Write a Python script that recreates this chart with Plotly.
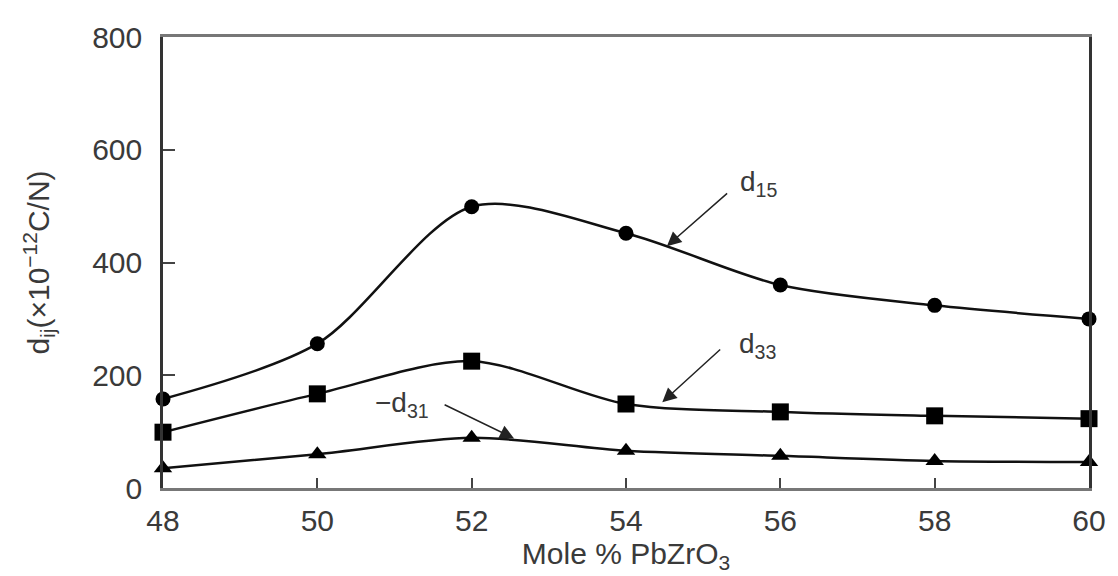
import plotly.graph_objects as go

mole_pct = [48, 50, 52, 54, 56, 58, 60]
d15 = [158, 256, 499, 452, 360, 324, 300]
d33 = [99, 167, 225, 149, 135, 128, 123]
d31_neg = [35, 60, 89, 66, 57, 48, 46]

x_ticks = [48, 50, 52, 54, 56, 58, 60]
y_ticks = [0, 200, 400, 600, 800]

FONT = "Liberation Sans, Arial, sans-serif"
TXT = "#3a3a3a"

fig = go.Figure()

series = [
    (d15, "circle", 15, "d15"),
    (d33, "square", 17, "d33"),
    (d31_neg, "triangle-up", 16, "-d31"),
]
for vals, sym, size, name in series:
    fig.add_trace(go.Scatter(
        x=mole_pct, y=vals, mode="lines+markers", name=name,
        line=dict(color="#111111", width=2.5, shape="spline", smoothing=0.85),
        marker=dict(symbol=sym, size=size, color="#000000"),
        cliponaxis=False, showlegend=False,
    ))

ann_font = dict(family=FONT, size=28, color=TXT)
arrow_style = dict(showarrow=True, arrowhead=2, arrowsize=1.9, arrowwidth=1.5, arrowcolor="#222222")
annotations = [
    # d15 label + arrow
    dict(x=55.72, y=540, xref="x", yref="y", text="d<sub>15</sub>", showarrow=False, font=ann_font),
    dict(x=54.53, y=429, ax=55.33, ay=525, xref="x", yref="y", axref="x", ayref="y",
         text="", **arrow_style),
    # d33 label + arrow
    dict(x=55.70, y=252, xref="x", yref="y", text="d<sub>33</sub>", showarrow=False, font=ann_font),
    dict(x=54.47, y=152, ax=55.24, ay=248, xref="x", yref="y", axref="x", ayref="y",
         text="", **arrow_style),
    # -d31 label + arrow
    dict(x=51.10, y=148, xref="x", yref="y", text="\u2212d<sub>31</sub>", showarrow=False, font=ann_font),
    dict(x=52.55, y=88, ax=51.63, ay=149, xref="x", yref="y", axref="x", ayref="y",
         text="", **arrow_style),
]

# page body has an 8px default margin; size/margins compensate so the
# plot area lands where the reference has it
fig.update_layout(
    width=1110, height=568,
    margin=dict(l=155, r=19, t=22, b=83),
    paper_bgcolor="white", plot_bgcolor="white",
    font=dict(family=FONT, color=TXT, size=28),
    annotations=annotations,
    xaxis=dict(
        range=[48, 60], tickvals=x_ticks, ticktext=[str(v) for v in x_ticks],
        showgrid=False, zeroline=False,
        showline=True, linecolor="#777777", linewidth=3, mirror=True,
        ticks="inside", ticklen=10, tickwidth=1.5, tickcolor="#444444",
        tickfont=dict(family=FONT, size=30, color=TXT),
        ticklabelstandoff=4,
        title=dict(text="Mole % PbZrO<sub>3</sub>", font=dict(family=FONT, size=30, color=TXT), standoff=6),
    ),
    yaxis=dict(
        range=[0, 800], tickvals=y_ticks, ticktext=[str(v) for v in y_ticks],
        showgrid=False, zeroline=False,
        showline=True, linecolor="#333333", linewidth=2.5, mirror=True,
        ticks="inside", ticklen=12, tickwidth=1.5, tickcolor="#444444",
        tickfont=dict(family=FONT, size=30, color=TXT),
        ticklabelstandoff=12,
        title=dict(text="d<sub>ij</sub>(\u00d710<sup>\u221212</sup>C/N)", font=dict(family=FONT, size=30, color=TXT), standoff=34),
    ),
)

fig.write_html("out.html")
